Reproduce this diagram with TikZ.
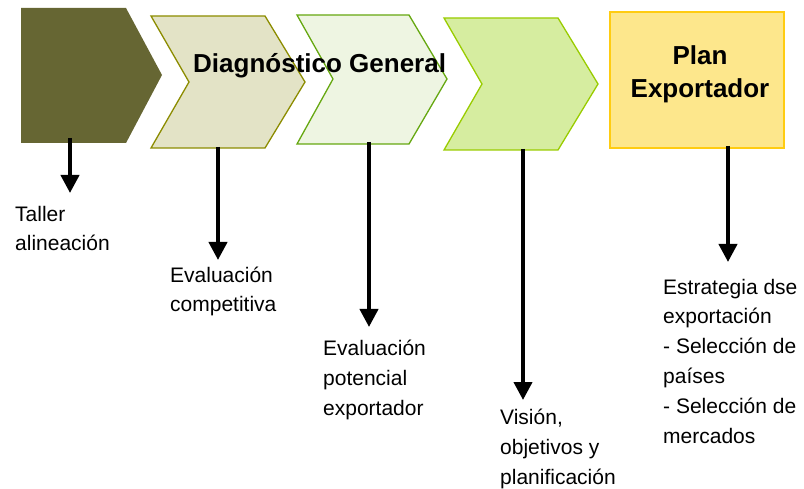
\documentclass[tikz,border=0pt]{standalone}
\usepackage{fontspec}
\setmainfont{Liberation Sans}
\usetikzlibrary{arrows.meta}
\definecolor{oliveDark}{HTML}{666633}
\definecolor{oliveLine}{HTML}{8C8C00}
\definecolor{oliveFill}{HTML}{E3E3C6}
\definecolor{greenLine}{HTML}{66A811}
\definecolor{greenFill}{HTML}{EEF5E2}
\definecolor{limeLine}{HTML}{99CC00}
\definecolor{limeFill}{HTML}{D6EDA0}
\definecolor{goldLine}{HTML}{FFCC11}
\definecolor{goldFill}{HTML}{FDE78C}
\begin{document}
\begin{tikzpicture}[x=1pt,y=-1pt,
  pointer/.style={line width=4pt,-{Triangle[width=18pt,length=18pt]}},
  chevron/.style={line width=1.3pt},
  stepnote/.style={anchor=base west,align=left,inner sep=0pt,
    font=\fontsize{21}{29.8}\selectfont},
  phase/.style={inner sep=0pt,font=\bfseries\fontsize{26}{33}\selectfont}]
  \useasboundingbox (0,0) rectangle (804,489);
  % process chevrons
  \fill[oliveDark] (21,8) -- (126,8) -- (162,75) -- (126,143) -- (21,143) -- cycle;
  \draw[chevron, draw=oliveLine, fill=oliveFill] (151,16) -- (265,16) -- (305,82) -- (265,148) -- (151,148) -- (189,82) -- cycle;
  \draw[chevron, draw=greenLine, fill=greenFill] (297,15) -- (409,15) -- (447,79) -- (409,144) -- (297,144) -- (333,79) -- cycle;
  \draw[chevron, draw=limeLine, fill=limeFill] (444,18) -- (558,18) -- (598,84) -- (558,150) -- (444,150) -- (482,84) -- cycle;
  \draw[chevron, draw=goldLine, fill=goldFill] (610,12) rectangle (784,148);
  \node[phase, anchor=base west] (diag) at (193,73) {Diagnóstico General};
  \node[phase, anchor=base, align=center] (plan) at (700,98) {Plan\\Exportador};
  % steps (anchored at the baseline of the last line)
  \node[stepnote] (taller) at (15,251) {Taller\\alineación};
  \node[stepnote] (compet) at (170,312) {Evaluación\\competitiva};
  \node[stepnote] (potenc) at (323,415) {Evaluación\\potencial\\exportador};
  \node[stepnote] (vision) at (500,484) {Visión,\\objetivos y\\planificación};
  \node[stepnote] (estrat) at (663,443) {Estrategia dse\\exportación\\- Selección de\\países\\- Selección de\\mercados};
  % arrows
  \foreach \i/\x/\ya/\yb in {1/70/138/193, 2/218/147/260, 3/369/142/327, 4/523/149/400, 5/728/146/262}{
    \coordinate (s\i) at (\x,\ya);
    \coordinate (e\i) at (\x,\yb);
    \draw[pointer] (s\i) -- (e\i);
  }
\end{tikzpicture}
\end{document}
